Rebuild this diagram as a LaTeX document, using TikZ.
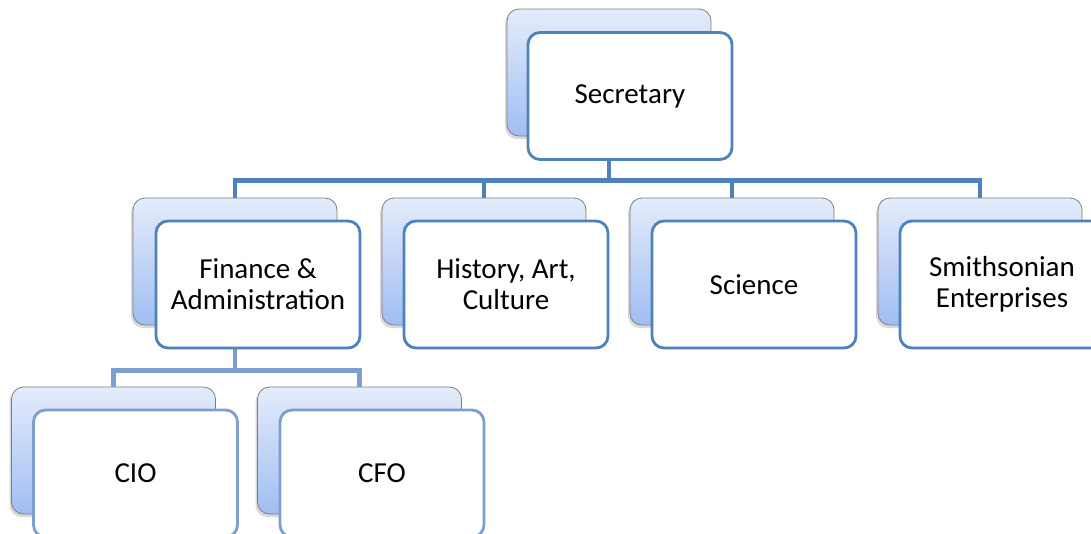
\documentclass[tikz,border=0pt]{standalone}
\usepackage{fontspec}
\setmainfont{Carlito}
\usetikzlibrary{shadows}

\definecolor{linkblue}{RGB}{79,129,189}
\definecolor{lightlink}{RGB}{126,158,206}
\definecolor{backtop}{RGB}{228,236,251}
\definecolor{backbot}{RGB}{160,190,242}
\definecolor{backedge}{RGB}{125,125,125}

\tikzset{
  backbox/.style={rectangle, rounded corners=12pt, minimum width=204pt,
    minimum height=127pt, draw=backedge, line width=0.8pt,
    top color=backtop, bottom color=backbot,
    drop shadow={shadow xshift=-2pt, shadow yshift=-3pt, opacity=0.3}},
  frontbox/.style={rectangle, rounded corners=12pt, minimum width=204pt,
    minimum height=127pt, draw=linkblue, line width=2.8pt, fill=white,
    align=center, text=black, font=\fontsize{29}{31}\selectfont},
  lowbox/.style={frontbox, draw=lightlink},
  conn/.style={draw=linkblue, line width=4.6pt},
  lowconn/.style={draw=lightlink, line width=4.6pt},
}

\begin{document}
\begin{tikzpicture}[x=1pt, y=-1pt]
  \useasboundingbox (0,0) rectangle (1091,533);
  \clip (0,0) rectangle (1091,533);

  % back cards (gradient, shadowed)
  \node[backbox] (secb) at (609,72.5)  {};
  \node[backbox] (finb) at (235,261.5) {};
  \node[backbox] (hisb) at (484,261.5) {};
  \node[backbox] (scib) at (732,261.5) {};
  \node[backbox] (smib) at (980,261.5) {};
  \node[backbox] (ciob) at (113.5,450.5) {};
  \node[backbox] (cfob) at (359.5,450.5) {};

  % connectors: Secretary to the four divisions
  \draw[conn] (secb.south) -- ++(0,44) coordinate (busA);
  \draw[conn] (finb.north) |- (busA) -| (smib.north);
  \draw[conn] (hisb.north) -- (hisb.north |- busA);
  \draw[conn] (scib.north) -- (scib.north |- busA);

  % connectors: Finance & Administration to CIO / CFO
  \draw[lowconn] (finb.south) -- ++(0,45) coordinate (busB);
  \draw[lowconn] (ciob.north) |- (busB) -| (cfob.north);

  % front cards with labels
  \node[frontbox] (sec) at (630,96)    {\raisebox{-3pt}{Secretary}};
  \node[frontbox] (fin) at (258,284.5) {Finance \&\\Administration};
  \node[frontbox] (his) at (506,284.5) {History, Art,\\Culture};
  \node[frontbox] (sci) at (754,284.5) {Science};
  \node[frontbox] (smi) at (1002,284.5) {Smithsonian\\Enterprises};
  \node[lowbox]   (cio) at (135.5,473.5) {CIO};
  \node[lowbox]   (cfo) at (382,473.5)   {CFO};
\end{tikzpicture}
\end{document}
